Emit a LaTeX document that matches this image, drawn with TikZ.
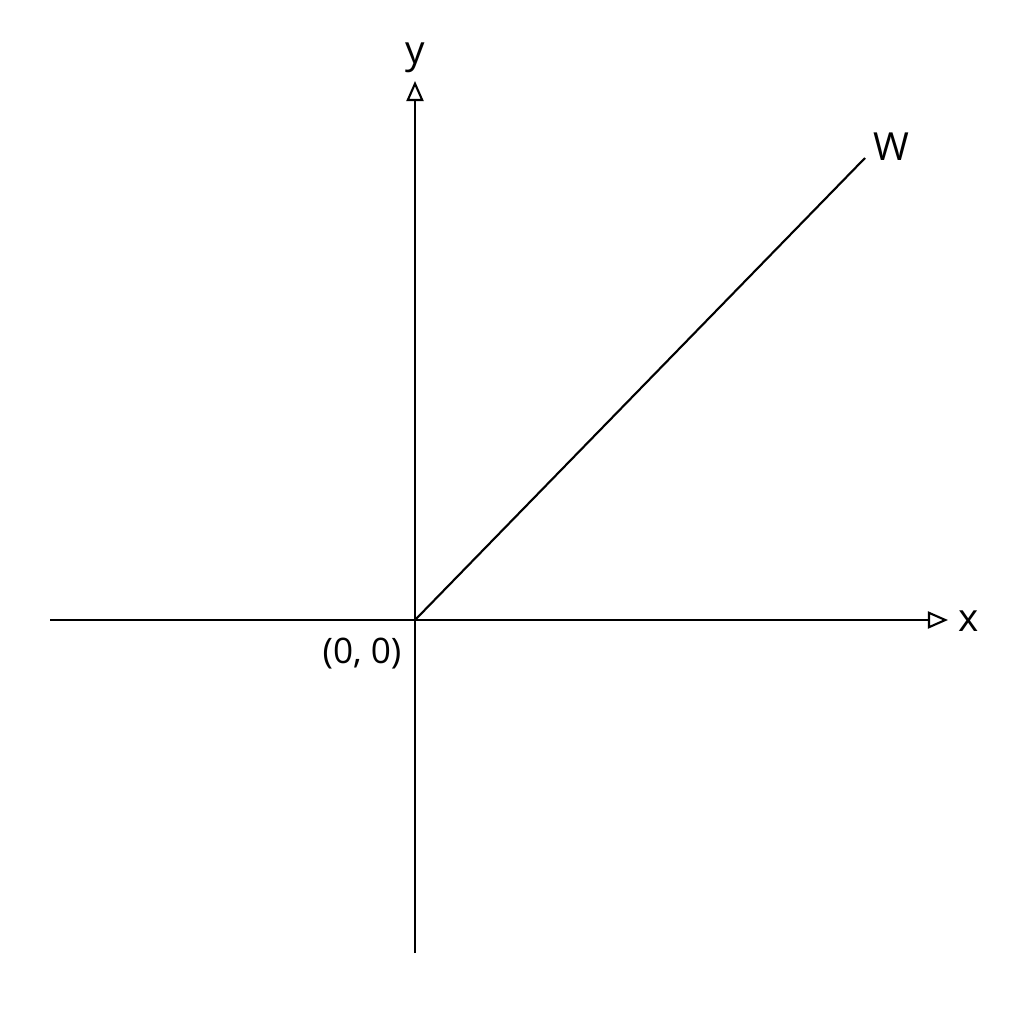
\documentclass[tikz,border=0pt]{standalone}
\usepackage{fontspec}
\setmainfont{Open Sans}
\usetikzlibrary{arrows.meta}
\begin{document}
\begin{tikzpicture}[x=0.01cm,y=-0.01cm,
  axis/.style={line width=0.6pt,-{Triangle[open,length=0.2cm,width=0.17cm,line width=0.6pt]}},
  lbl/.style={inner sep=0pt,font=\fontsize{11}{13}\selectfont}]
\useasboundingbox (0,0) rectangle (1024,1024);
\fill[white] (0,0) rectangle (1024,1024);
\coordinate (O) at (415,620);
\coordinate (xl) at (50,620);
\coordinate (xr) at (948,620);
\coordinate (yb) at (415,953);
\coordinate (yt) at (415,81);
\coordinate (wend) at (865,158);
\draw[axis] (xl) -- (xr);
\draw[axis] (yb) -- (yt);
\draw[line width=0.6pt] (O) -- (wend);
\node[lbl] (ylab) at (415,58) {y};
\node[lbl] (xlab) at (969,621) {x};
\node[lbl] (wlab) at (891,147) {W};
\node[lbl,font=\fontsize{10}{12}\selectfont] (olab) at (362,654) {(0, 0)};
\end{tikzpicture}
\end{document}
